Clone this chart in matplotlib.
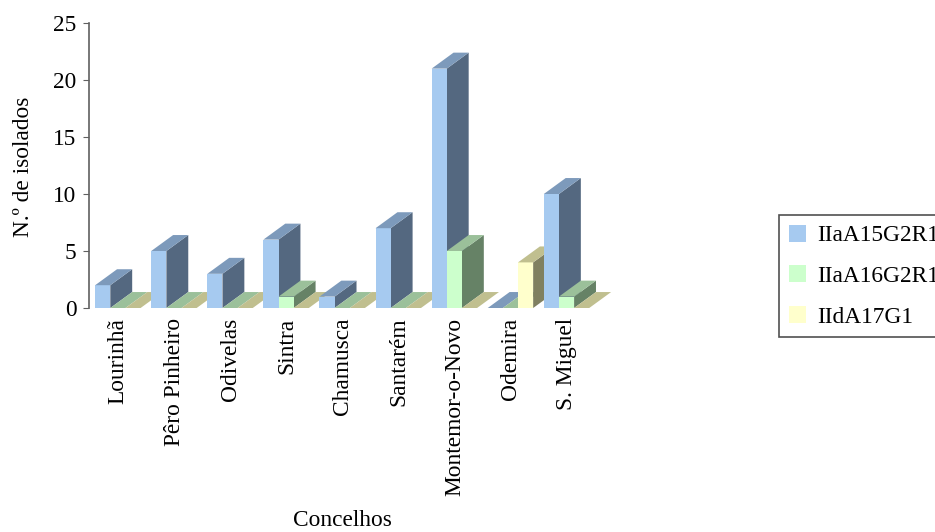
import matplotlib
matplotlib.use('Agg')
import matplotlib.pyplot as plt
from matplotlib.patches import Patch, Polygon

WIDTH = 935
HEIGHT = 532
DPI = 100
FONT = 16.8

concelhos = ['Lourinhã', 'Pêro Pinheiro', 'Odivelas', 'Sintra', 'Chamusca',
             'Santarém', 'Montemor-o-Novo', 'Odemira', 'S. Miguel']
genotipos = ['IIaA15G2R1', 'IIaA16G2R1', 'IIdA17G1']
iiaa15 = [2, 5, 3, 6, 1, 7, 21, 0, 10]
iiaa16 = [0, 0, 0, 1, 0, 0, 5, 0, 1]
iida17 = [0, 0, 0, 0, 0, 0, 0, 4, 0]

# front, top and side face of each series
FRONT = ['#a6caf0', '#ccffcc', '#ffffcc']
TOP = ['#7d9abb', '#9bc09a', '#c0bf8f']
SIDE = ['#546880', '#668266', '#808060']

BAR_W = 0.27
DEPTH_X = 0.39
DEPTH_Y = 1.4


def bar3d(ax, x, h, k):
    x1 = x + BAR_W
    dx, dy = DEPTH_X, DEPTH_Y
    if h > 0:
        ax.add_patch(Polygon([(x1, 0), (x1 + dx, dy), (x1 + dx, h + dy), (x1, h)],
                             fc=SIDE[k], ec='none', clip_on=False))
        ax.add_patch(Polygon([(x, 0), (x1, 0), (x1, h), (x, h)],
                             fc=FRONT[k], ec='none', clip_on=False))
    ax.add_patch(Polygon([(x, h), (x1, h), (x1 + dx, h + dy), (x + dx, h + dy)],
                         fc=TOP[k], ec='none', clip_on=False))


def main():
    plt.rcParams['font.family'] = ['Liberation Serif', 'DejaVu Serif']
    plt.rcParams['font.size'] = FONT

    fig = plt.figure(figsize=(WIDTH / DPI, HEIGHT / DPI), dpi=DPI)
    ax = fig.add_axes([89 / WIDTH, 1 - 308 / HEIGHT, 521 / WIDTH, 285 / HEIGHT])
    ax.set_xlim(-0.52, 8.77)
    ax.set_ylim(0, 25)

    for i in range(len(concelhos)):
        for k, serie in enumerate([iiaa15, iiaa16, iida17]):
            bar3d(ax, i - 0.41 + k * BAR_W, serie[i], k)

    for side in ['top', 'right', 'bottom']:
        ax.spines[side].set_visible(False)
    ax.spines['left'].set_color('#606060')
    ax.spines['left'].set_linewidth(1.2)

    ax.set_yticks(range(0, 26, 5))
    ax.tick_params(axis='y', length=4, color='#606060', pad=5)
    ax.set_xticks(range(len(concelhos)))
    ax.set_xticklabels(concelhos, rotation=90)
    ax.tick_params(axis='x', length=0, pad=7)

    fig.text(342 / WIDTH, 1 - 521 / HEIGHT, 'Concelhos', ha='center', va='center')
    fig.text(24 / WIDTH, 1 - 167 / HEIGHT, 'N.º de isolados', rotation=90,
             ha='center', va='center')

    handles = [Patch(fc=c, ec='none') for c in FRONT]
    leg = fig.legend(handles, genotipos, loc='upper left',
                     bbox_to_anchor=(779 / WIDTH, 1 - 215 / HEIGHT),
                     borderaxespad=0, fancybox=False, framealpha=1,
                     edgecolor='#505050', handlelength=0.73, handleheight=0.73,
                     handletextpad=0.5, labelspacing=0.82, borderpad=0.42)
    leg.get_frame().set_linewidth(1.2)

    fig.savefig('out.png', dpi=DPI)


if __name__ == '__main__':
    main()
